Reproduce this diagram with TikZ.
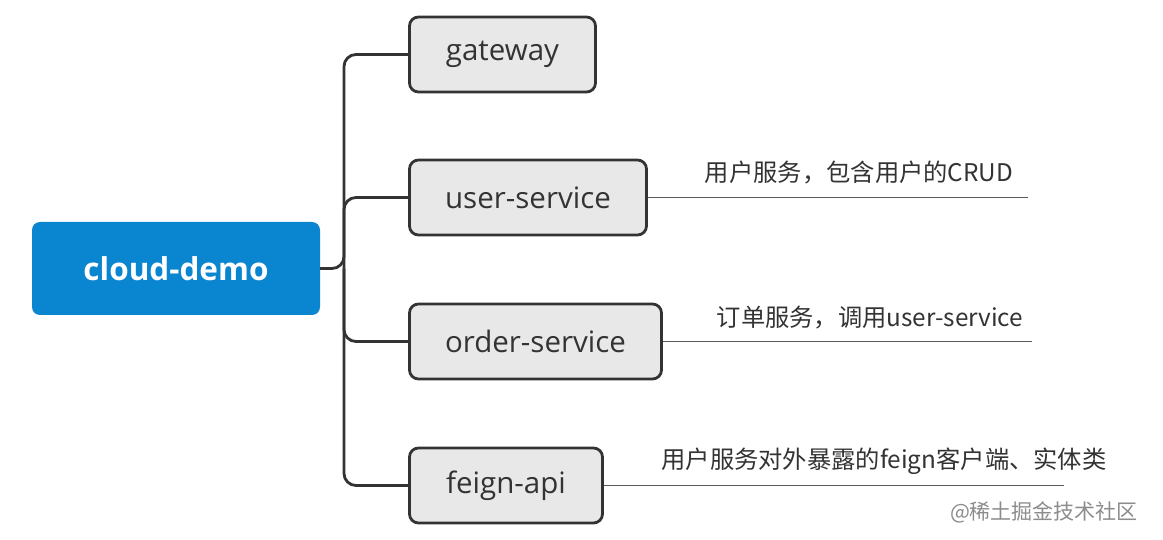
\documentclass[tikz,border=0pt]{standalone}
\usepackage{fontspec}
\setmainfont{Open Sans}
\newfontfamily\cjk{Noto Sans CJK SC}
\definecolor{rootblue}{HTML}{0A85D0}
\definecolor{boxfill}{HTML}{E8E8E8}
\definecolor{boxline}{HTML}{333333}
\definecolor{notegray}{HTML}{5A5A5A}
\begin{document}
\begin{tikzpicture}[x=1pt,y=-1pt,
  rootbox/.style={rounded corners=8pt, fill=rootblue, text=white, font=\fontsize{31.5}{34}\selectfont\bfseries, minimum width=288pt, minimum height=93pt, inner sep=0pt},
  childbox/.style={rounded corners=9pt, fill=boxfill, draw=boxline, line width=2.8pt, text=boxline, font=\fontsize{29.5}{32}\selectfont, minimum height=75pt, inner sep=0pt},
  conn/.style={draw=boxline, line width=2.8pt, rounded corners=12pt},
  note/.style={draw=notegray, line width=1.6pt},
  notetext/.style={text=black!80, font=\cjk\fontsize{24.3}{27}\selectfont, inner sep=0pt},
  wmark/.style={text=black!45, font=\cjk\fontsize{21}{23}\selectfont, inner sep=0pt}]
\useasboundingbox (0,0) rectangle (1163,540);
\fill[white] (0,0) rectangle (1163,540);
\node[rootbox] (root) at (176,268.5) {cloud-demo};
\node[childbox, minimum width=186pt] (gw) at (502.5,54.5) {gateway};
\node[childbox, minimum width=237pt] (us) at (528,197.5) {user-service};
\node[childbox, minimum width=252pt] (os) at (535.5,341.5) {order-service};
\node[childbox, minimum width=193pt] (fa) at (506,485.5) {feign-api};
\coordinate (trunk) at (344,268.5);
\draw[conn] (root.east) -- (trunk) |- (gw.west);
\draw[conn] (trunk) |- (us.west);
\draw[conn] (trunk) |- (os.west);
\draw[conn] (trunk) |- (fa.west);
\coordinate (e1) at (1028,197.5);
\coordinate (e2) at (1032,341.5);
\coordinate (e3) at (1064,485.5);
\draw[note] (us.east) -- (e1);
\draw[note] (os.east) -- (e2);
\draw[note] (fa.east) -- (e3);
\node[notetext] (n1) at (859,173) {用户服务，包含用户的CRUD};
\node[notetext] (n2) at (870,318) {订单服务，调用user-service};
\node[notetext] (n3) at (884,461) {用户服务对外暴露的feign客户端、实体类};
\node[wmark] (wm) at (1044,512) {@稀土掘金技术社区};
\end{tikzpicture}
\end{document}
